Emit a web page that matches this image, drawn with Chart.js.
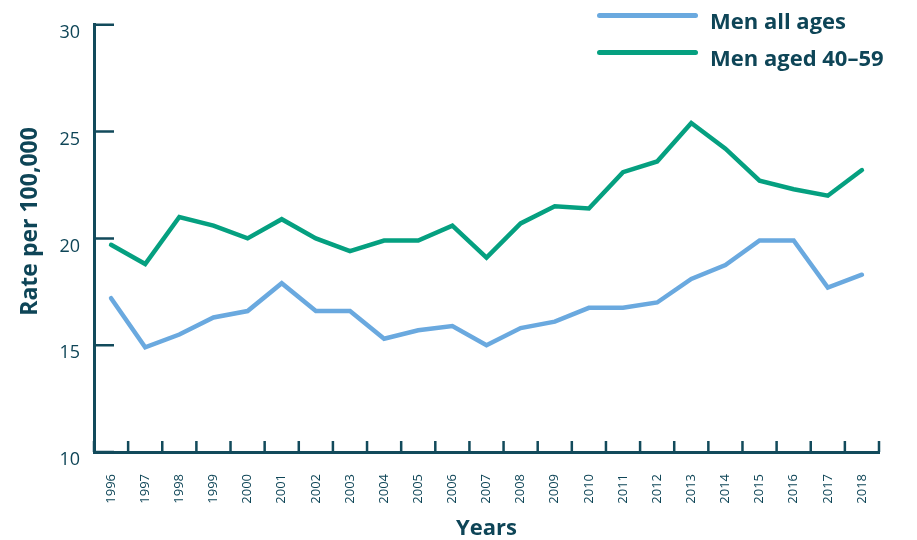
<!DOCTYPE html>
<html><head><meta charset="utf-8">
<script src="https://cdn.jsdelivr.net/npm/chart.js@4"></script>
<style>
html,body{margin:0;padding:0;background:#fff;}
#wrap{position:relative;width:917px;height:540px;overflow:hidden;}
#c{position:absolute;left:0;top:0;}
#legend{position:absolute;left:597px;top:0;font-family:"Open Sans";font-weight:700;font-size:22px;line-height:22px;color:#0e4557;}
.sw{position:absolute;left:0;width:101px;height:5px;border-radius:3px;}
.lbl{position:absolute;left:113px;white-space:nowrap;}
</style></head>
<body><div id="wrap"><canvas id="c" width="917" height="540"></canvas><div id="legend"></div></div>
<script>
const years = ['1996','1997','1998','1999','2000','2001','2002','2003','2004','2005','2006','2007','2008','2009','2010','2011','2012','2013','2014','2015','2016','2017','2018'];
const menAllAges = [17.2,14.9,15.5,16.3,16.6,17.9,16.6,16.6,15.3,15.7,15.9,15.0,15.8,16.1,16.75,16.75,17.0,18.1,18.75,19.9,19.9,17.7,18.3];
const menAged4059 = [19.7,18.8,21.0,20.6,20.0,20.9,20.0,19.4,19.9,19.9,20.6,19.1,20.7,21.5,21.4,23.1,23.6,25.4,24.2,22.7,22.3,22.0,23.2];
const yTicks = [10,15,20,25,30];
const seriesNames = ['Men all ages','Men aged 40\u201359'];
const seriesColors = ['#6aa9df','#05a080'];

const TXT = '#0e4557';
const AX = '#124a5b';

const tickPlugin = {
  id: 'innerTicks',
  afterLayout(chart) {
    // the y-axis title sits a little above the chart-area centre in the reference
    const ys = chart.scales.y;
    if (!ys._titleShiftWrapped) {
      const orig = ys.drawTitle;
      ys.drawTitle = function () {
        this.top -= 17; this.bottom -= 17;
        orig.call(this);
        this.top += 17; this.bottom += 17;
      };
      ys._titleShiftWrapped = true;
    }
  },
  afterDraw(chart) {
    const ctx = chart.ctx, ca = chart.chartArea;
    const xs = chart.scales.x, ys = chart.scales.y;
    ctx.save();
    ctx.strokeStyle = AX;
    ctx.lineWidth = 2.5;
    ctx.beginPath();
    yTicks.forEach(v => {
      const py = ys.getPixelForValue(v);
      ctx.moveTo(ca.left, py); ctx.lineTo(ca.left + 20, py);
    });
    for (let i = 0; i <= years.length; i++) {
      const px = xs.getPixelForValue(i - 0.5);
      ctx.moveTo(px, ca.bottom); ctx.lineTo(px, ca.bottom - 11);
    }
    ctx.stroke();
    ctx.restore();
  }
};

const chart = new Chart(document.getElementById('c'), {
  type: 'line',
  data: {
    labels: years,
    datasets: [
      {label: seriesNames[0], data: menAllAges, borderColor: seriesColors[0], backgroundColor: seriesColors[0], borderWidth: 4.5, pointRadius: 0, tension: 0, borderJoinStyle: 'miter', borderCapStyle: 'round'},
      {label: seriesNames[1], data: menAged4059, borderColor: seriesColors[1], backgroundColor: seriesColors[1], borderWidth: 4.5, pointRadius: 0, tension: 0, borderJoinStyle: 'miter', borderCapStyle: 'round'}
    ]
  },
  options: {
    responsive: false,
    animation: false,
    layout: {padding: {top: 23, right: 38, left: 0, bottom: 0}},
    plugins: {legend: {display: false}, tooltip: {enabled: false}},
    scales: {
      x: {
        offset: true,
        grid: {display: false, offset: true},
        border: {display: true, color: AX, width: 3},
        ticks: {color: TXT, font: {family: 'Open Sans', size: 13}, minRotation: 90, maxRotation: 90, padding: 14, autoSkip: false},
        title: {display: true, text: 'Years', color: TXT, font: {family: 'Open Sans', size: 22, weight: 'bold', lineHeight: 1}, padding: {top: 0, bottom: 0}},
        afterFit(s) { s.height = 88; }
      },
      y: {
        min: 10, max: 30,
        afterBuildTicks(s) { s.ticks = yTicks.map(v => ({value: v})); },
        grid: {display: false, drawTicks: false},
        border: {display: true, color: AX, width: 3},
        ticks: {color: TXT, font: {family: 'Open Sans', size: 18}, padding: 14, labelOffset: 8},
        title: {display: true, text: 'Rate per 100,000', color: TXT, font: {family: 'Open Sans', size: 23, weight: 'bold', lineHeight: 1}, padding: {top: 19, bottom: 0}},
        afterFit(s) { s.width = 94; }
      }
    }
  },
  plugins: [tickPlugin]
});

// HTML legend built from the chart's datasets
const leg = document.getElementById('legend');
const rows = [{line: 12.5, text: 9}, {line: 49.5, text: 45.5}];
chart.data.datasets.forEach((ds, i) => {
  const sw = document.createElement('div');
  sw.className = 'sw'; sw.style.top = rows[i].line + 'px'; sw.style.background = ds.borderColor;
  const lb = document.createElement('div');
  lb.className = 'lbl'; lb.style.top = rows[i].text + 'px'; lb.textContent = ds.label;
  leg.appendChild(sw); leg.appendChild(lb);
});
</script>
</body></html>
